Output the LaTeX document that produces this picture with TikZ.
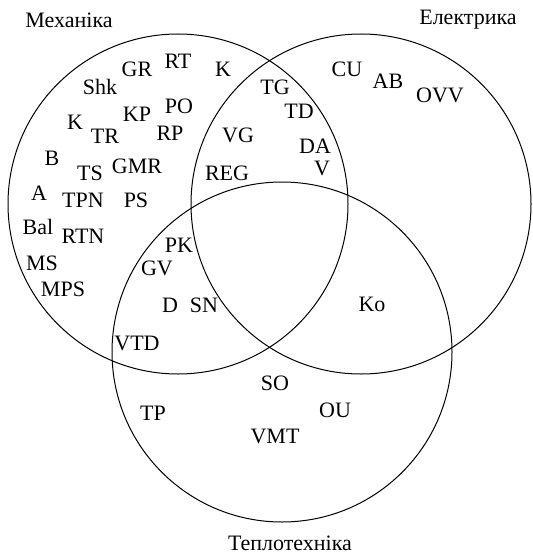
\documentclass[tikz,border=0pt]{standalone}
\usepackage{fontspec}
\setmainfont{Liberation Serif}
\usetikzlibrary{positioning}

\begin{document}
\begin{tikzpicture}[x=1pt, y=-1pt, font=\fontsize{22}{26}\selectfont,
    set/.style={draw, circle, line width=1pt, minimum size=340pt, inner sep=0pt},
    item/.style={inner sep=0pt}]
    \useasboundingbox (0,0) rectangle (532,556);
    % the three sets
    \node[set] (mech) at (178,204) {};
    \node[set] (elec) at (361,204) {};
    \node[set] (heat) at (282,352) {};

    \node[item] (mechname) at (69,20) {Механіка};
    \node[item] (elecname) at (468,20) {Електрика};
    \node[item] (heatname) at (290,543) {Теплотехніка};

    % mechanics only
    \node[item] (GR) at (137,69) {GR};
    \node[item] (RT) at (178,61) {RT};
    \node[item] (K1) at (223,69) {K};
    \node[item] (Shk) at (100,87) {Shk};
    \node[item] (KP) at (137,114) {KP};
    \node[item] (PO) at (179,106) {PO};
    \node[item] (K2) at (75,122) {K};
    \node[item] (TR) at (105,136) {TR};
    \node[item] (RP) at (170,133) {RP};
    \node[item] (B) at (52,158) {B};
    \node[item] (TS) at (90,173) {TS};
    \node[item] (GMR) at (137,166) {GMR};
    \node[item] (A) at (39,193) {A};
    \node[item] (TPN) at (83,200) {TPN};
    \node[item] (PS) at (136,200) {PS};
    \node[item] (Bal) at (38,227) {Bal};
    \node[item] (RTN) at (83,236) {RTN};
    \node[item] (MS) at (42,263) {MS};
    \node[item] (MPS) at (63,289) {MPS};

    % mechanics and electrics
    \node[item] (TG) at (275,87) {TG};
    \node[item] (TD) at (299,111) {TD};
    \node[item] (VG) at (238,135) {VG};
    \node[item] (DA) at (315,146) {DA};
    \node[item] (V) at (322,168) {V};
    \node[item] (REG) at (227,173) {REG};

    % mechanics and heat
    \node[item] (PK) at (179,245) {PK};
    \node[item] (GV) at (157,268) {GV};
    \node[item] (D) at (170,305) {D};
    \node[item] (SN) at (204,305) {SN};
    \node[item] (VTD) at (137,343) {VTD};

    % electrics only
    \node[item] (CU) at (347,69) {CU};
    \node[item] (AB) at (388,81) {AB};
    \node[item] (OVV) at (440,95) {OVV};
    \node[item] (Ko) at (372,304) {Ko};

    % heat only
    \node[item] (SO) at (275,383) {SO};
    \node[item] (TP) at (153,413) {TP};
    \node[item] (OU) at (335,410) {OU};
    \node[item] (VMT) at (275,436) {VMT};
\end{tikzpicture}
\end{document}
